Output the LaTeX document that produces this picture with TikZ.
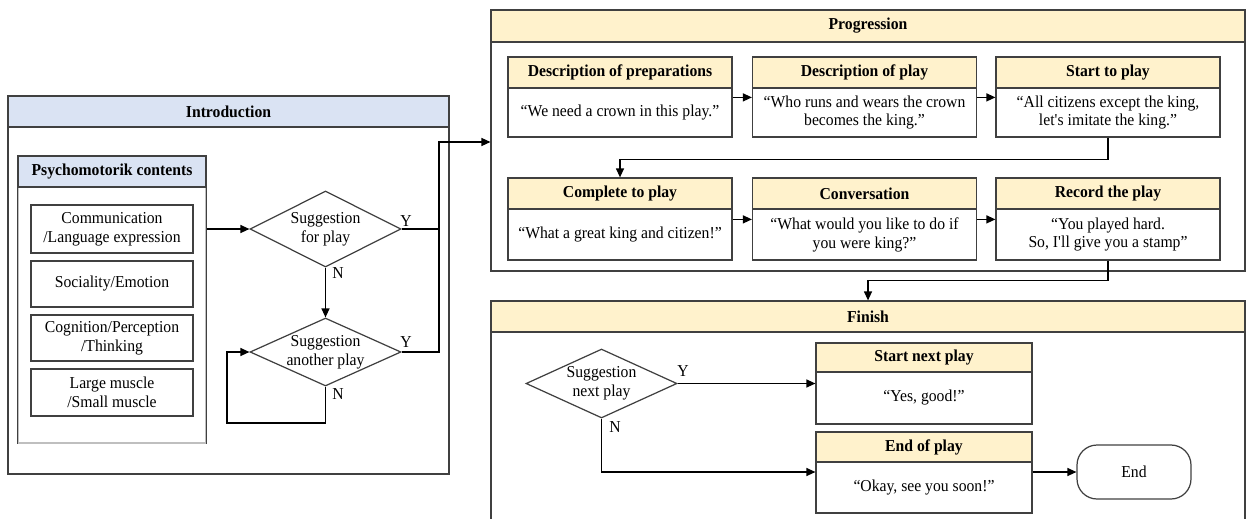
\documentclass[tikz,border=0pt]{standalone}
\usepackage{fontspec}
\setmainfont{Liberation Serif}[FakeStretch=0.94]
\usetikzlibrary{shapes.geometric,arrows.meta}

\definecolor{headblue}{HTML}{DAE3F3}
\definecolor{headyellow}{HTML}{FFF2CC}
\definecolor{edgegray}{HTML}{404040}
\newcommand{\txtsize}{\fontsize{9.5}{10.8}\selectfont}

\begin{document}
\begin{tikzpicture}[x=0.02cm, y=-0.02cm, font=\txtsize,
  box/.style={draw=edgegray, line width=0.7pt, rectangle, inner sep=0pt, align=center},
  bluehead/.style={box, fill=headblue, font=\txtsize\bfseries},
  yellowhead/.style={box, fill=headyellow, font=\txtsize\bfseries},
  decision/.style={draw=edgegray, line width=0.7pt, diamond, inner sep=0pt, minimum width=3.02cm},
  flow/.style={draw=black, line width=0.7pt, -{Triangle[length=1.8mm,width=1.6mm]}},
  wire/.style={draw=black, line width=0.7pt},
  yn/.style={inner sep=0pt}]
  \useasboundingbox (0,0) rectangle (1247,518);

  % draw introduction panel
  \node[box, minimum width=8.82cm, minimum height=7.56cm] (intro) at (228.5,285) {};
  \node[bluehead, minimum width=8.82cm, minimum height=0.62cm] (introH) at (228.5,111.5) {Introduction};
  \node[box, draw=black!25, minimum width=3.76cm, minimum height=5.74cm] (psy) at (112,299.5) {};
  \draw[edgegray, line width=0.7pt] (psy.south west) -- (psy.north west) -- (psy.north east) -- (psy.south east);
  \node[bluehead, minimum width=3.76cm, minimum height=0.62cm] (psyH) at (112,171.5) {Psychomotorik contents};
  \node[box, minimum width=3.24cm, minimum height=0.96cm] (psy1) at (112,229) {Communication\\/Language expression};
  \node[box, minimum width=3.24cm, minimum height=0.92cm] (psy2) at (112,284) {Sociality/Emotion};
  \node[box, minimum width=3.24cm, minimum height=0.92cm] (psy3) at (112,338) {Cognition/Perception\\/Thinking};
  \node[box, minimum width=3.24cm, minimum height=0.94cm] (psy4) at (112,392.5) {Large muscle\\/Small muscle};

  % draw decisions of the introduction
  \node[decision, minimum height=1.52cm, label={[align=center]center:Suggestion\\for play}] (d1) at (325.5,229) {};
  \node[decision, minimum height=1.36cm, label={[align=center]center:Suggestion\\another play}] (d2) at (325.5,352) {};
  \node[yn] (d1Y) at (406,221) {Y};
  \node[yn] (d1N) at (338,273) {N};
  \node[yn] (d2Y) at (406,342) {Y};
  \node[yn] (d2N) at (338,394) {N};

  % draw progression panel
  \node[box, minimum width=15.08cm, minimum height=5.22cm] (prog) at (868,140.5) {};
  \node[yellowhead, minimum width=15.08cm, minimum height=0.64cm] (progH) at (868,26) {Progression};
  \node[yellowhead, minimum width=4.48cm, minimum height=0.62cm] (ph1) at (620,72.5) {Description of preparations};
  \node[box, minimum width=4.48cm, minimum height=0.98cm] (pb1) at (620,112.5) {``We need a crown in this play.''};
  \node[yellowhead, minimum width=4.48cm, minimum height=0.62cm] (ph2) at (864.5,72.5) {Description of play};
  \node[box, minimum width=4.48cm, minimum height=0.98cm] (pb2) at (864.5,112.5) {``Who runs and wears the crown\\becomes the king.''};
  \node[yellowhead, minimum width=4.48cm, minimum height=0.62cm] (ph3) at (1108,72.5) {Start to play};
  \node[box, minimum width=4.48cm, minimum height=0.98cm] (pb3) at (1108,112.5) {``All citizens except the king,\\let\textquotesingle s imitate the king.''};
  \node[yellowhead, minimum width=4.48cm, minimum height=0.62cm] (ph4) at (620,193.5) {Complete to play};
  \node[box, minimum width=4.48cm, minimum height=1.02cm] (pb4) at (620,234.5) {``What a great king and citizen!''};
  \node[yellowhead, minimum width=4.48cm, minimum height=0.62cm] (ph5) at (864.5,193.5) {Conversation};
  \node[box, minimum width=4.48cm, minimum height=1.02cm] (pb5) at (864.5,234.5) {``What would you like to do if\\you were king?''};
  \node[yellowhead, minimum width=4.48cm, minimum height=0.62cm] (ph6) at (1108,193.5) {Record the play};
  \node[box, minimum width=4.48cm, minimum height=1.02cm] (pb6) at (1108,234.5) {``You played hard.\\So, I\textquotesingle ll give you a stamp''};

  % draw finish panel
  \node[box, minimum width=15.08cm, minimum height=4.78cm] (fin) at (868,420.5) {};
  \node[yellowhead, minimum width=15.08cm, minimum height=0.62cm] (finH) at (868,316.5) {Finish};
  \node[decision, minimum height=1.38cm, label={[align=center]center:Suggestion\\next play}] (fd) at (601.5,383.5) {};
  \node[yn] (fdY) at (683,371) {Y};
  \node[yn] (fdN) at (615,427) {N};
  \node[yellowhead, minimum width=4.32cm, minimum height=0.58cm] (fh1) at (924,357.5) {Start next play};
  \node[box, minimum width=4.32cm, minimum height=1.04cm] (fb1) at (924,398) {``Yes, good!''};
  \node[yellowhead, minimum width=4.32cm, minimum height=0.6cm] (fh2) at (924,447) {End of play};
  \node[box, minimum width=4.32cm, minimum height=1.02cm] (fb2) at (924,487.5) {``Okay, see you soon!''};
  \node[box, rounded corners=0.4cm, minimum width=2.28cm, minimum height=1.08cm] (endT) at (1134,472) {End};

  % connectors
  \coordinate (yjoin) at (439,142);
  \coordinate (loopC) at (227,423);
  \draw[flow] (psy.east |- d1.west) -- (d1.west);
  \draw[flow] (d1.south) -- (d2.north);
  \draw[flow] (d2.south) |- (loopC) |- (d2.west);
  \draw[wire] (d2.east) -| (yjoin);
  \draw[flow] (d1.east) -| (yjoin) -- (prog.west |- yjoin);
  \draw[flow] ([yshift=-0.2cm]pb1.north east) -- ([yshift=-0.2cm]pb2.north west);
  \draw[flow] ([yshift=-0.2cm]pb2.north east) -- ([yshift=-0.2cm]pb3.north west);
  \draw[flow] (pb3.south) -- ++(0,22) -| (ph4.north);
  \draw[flow] ([yshift=-0.22cm]pb4.north east) -- ([yshift=-0.22cm]pb5.north west);
  \draw[flow] ([yshift=-0.22cm]pb5.north east) -- ([yshift=-0.22cm]pb6.north west);
  \draw[flow] (pb6.south) -- ++(0,20) -| (finH.north);
  \draw[flow] (fd.east) -- (fb1.west |- fd.east);
  \draw[flow] (fd.south) |- (fb2.west |- endT);
  \draw[flow] (fb2.east |- endT) -- (endT);
\end{tikzpicture}
\end{document}
